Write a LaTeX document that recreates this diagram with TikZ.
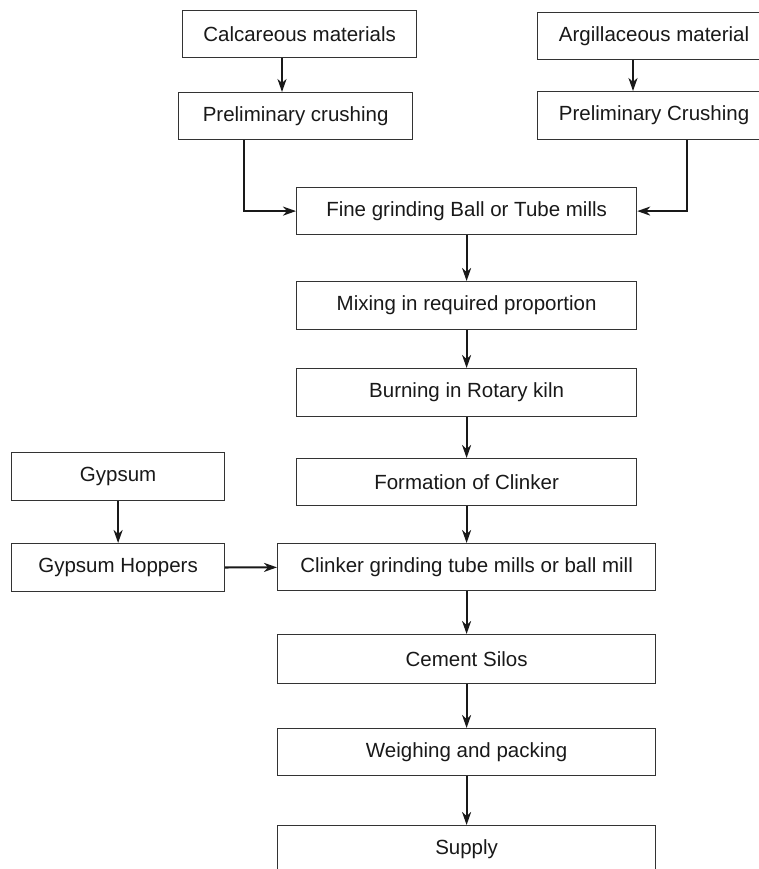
\documentclass[tikz,border=0pt]{standalone}
\usepackage{fontspec}
\setmainfont{Liberation Sans}
\usetikzlibrary{arrows.meta}
\begin{document}
\begin{tikzpicture}[x=1pt,y=-1pt,
  box/.style={draw=black!80,line width=1.2pt,rectangle,anchor=north west,inner sep=0pt,
    font=\fontsize{20.5}{24}\selectfont,text=black!90},
  arr/.style={line width=2.1pt,draw=black!90,-{Stealth[length=13pt,width=9pt,inset=4pt]}}]
\clip (0,0) rectangle (759,869);
\useasboundingbox (0,0) rectangle (759,869);
\fill[white] (0,0) rectangle (759,869);
\node[box,minimum width=234pt,minimum height=47pt] (calc) at (182,10) {Calcareous materials};
\node[box,minimum width=234pt,minimum height=47pt] (prel1) at (178,92) {Preliminary crushing};
\node[box,minimum width=233pt,minimum height=47pt] (arg) at (537,12) {Argillaceous material};
\node[box,minimum width=233pt,minimum height=48pt] (prel2) at (537,91) {Preliminary Crushing};
\node[box,minimum width=340pt,minimum height=47pt] (fine) at (296,187) {Fine grinding Ball or Tube mills};
\node[box,minimum width=340pt,minimum height=48pt] (mix) at (296,281) {Mixing in required proportion};
\node[box,minimum width=340pt,minimum height=48pt] (burn) at (296,368) {Burning in Rotary kiln};
\node[box,minimum width=340pt,minimum height=47pt] (form) at (296,458) {Formation of Clinker};
\node[box,minimum width=213pt,minimum height=48pt] (gyp) at (11,452) {Gypsum};
\node[box,minimum width=213pt,minimum height=48pt] (hop) at (11,543) {Gypsum Hoppers};
\node[box,minimum width=378pt,minimum height=47pt] (clink) at (277,543) {Clinker grinding tube mills or ball mill};
\node[box,minimum width=378pt,minimum height=49pt] (silos) at (277,634) {Cement Silos};
\node[box,minimum width=378pt,minimum height=47pt] (weigh) at (277,728) {Weighing and packing};
\node[box,minimum width=378pt,minimum height=47pt] (supply) at (277,825) {Supply};
\draw[arr] (282,0 |- calc.south) -- (282,0 |- prel1.north);
\draw[arr] (633,0 |- arg.south) -- (633,0 |- prel2.north);
\draw[arr] (244,0 |- prel1.south) |- (fine.west);
\draw[arr] (687,0 |- prel2.south) |- (fine.east);
\draw[arr] (fine) -- (mix);
\draw[arr] (mix) -- (burn);
\draw[arr] (burn) -- (form);
\draw[arr] (form) -- (clink);
\draw[arr] (gyp) -- (hop);
\draw[arr] (hop) -- (clink);
\draw[arr] (clink) -- (silos);
\draw[arr] (silos) -- (weigh);
\draw[arr] (weigh) -- (supply);
\end{tikzpicture}
\end{document}
